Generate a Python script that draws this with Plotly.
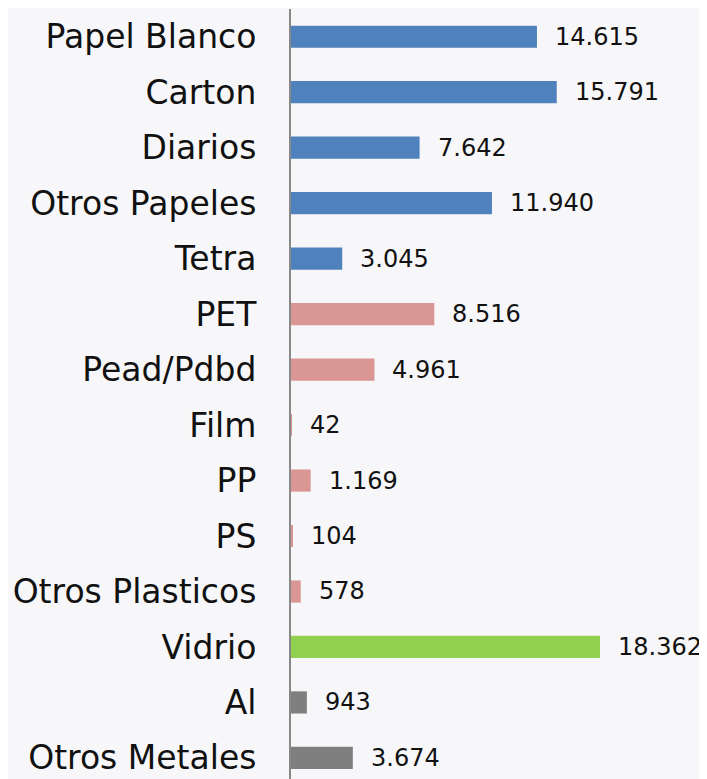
import plotly.graph_objects as go

categories = ["Papel Blanco", "Carton", "Diarios", "Otros Papeles", "Tetra", "PET",
              "Pead/Pdbd", "Film", "PP", "PS", "Otros Plasticos", "Vidrio", "Al", "Otros Metales"]
values = [14615, 15791, 7642, 11940, 3045, 8516, 4961, 42, 1169, 104, 578, 18362, 943, 3674]
value_labels = ["14.615", "15.791", "7.642", "11.940", "3.045", "8.516", "4.961", "42",
                "1.169", "104", "578", "18.362", "943", "3.674"]
groups = ["papel"] * 5 + ["plastico"] * 6 + ["vidrio"] + ["metal"] * 2
group_colors = {"papel": "#4f81bd", "plastico": "#d99694", "vidrio": "#92d050", "metal": "#7f7f7f"}

colors = [group_colors[g] for g in groups]
FONT = "'DejaVu Sans', sans-serif"

fig = go.Figure(go.Bar(
    x=values, y=categories, orientation="h",
    marker=dict(color=colors, line=dict(width=0)),
    width=0.4, hoverinfo="skip",
))

for c, v, t in zip(categories, values, value_labels):
    fig.add_annotation(x=v, y=c, text=t, showarrow=False, xanchor="left",
                       xshift=16, font=dict(family=FONT, size=24, color="#111111"))

fig.update_layout(
    width=699, height=771,
    margin=dict(l=283, r=0, t=1, b=0, autoexpand=False),
    paper_bgcolor="#f7f7f9", plot_bgcolor="#f7f7f9",
    showlegend=False,
    xaxis=dict(range=[0, 24720], showgrid=False, zeroline=False, showticklabels=False,
               showline=False, fixedrange=True),
    yaxis=dict(range=[13.38, -0.5], showgrid=False, zeroline=False,
               showline=True, linecolor="#888888", linewidth=2,
               ticks="", ticklabelstandoff=26, automargin=False,
               tickfont=dict(family=FONT, size=33, color="#111111")),
)

fig.write_html("out.html")
